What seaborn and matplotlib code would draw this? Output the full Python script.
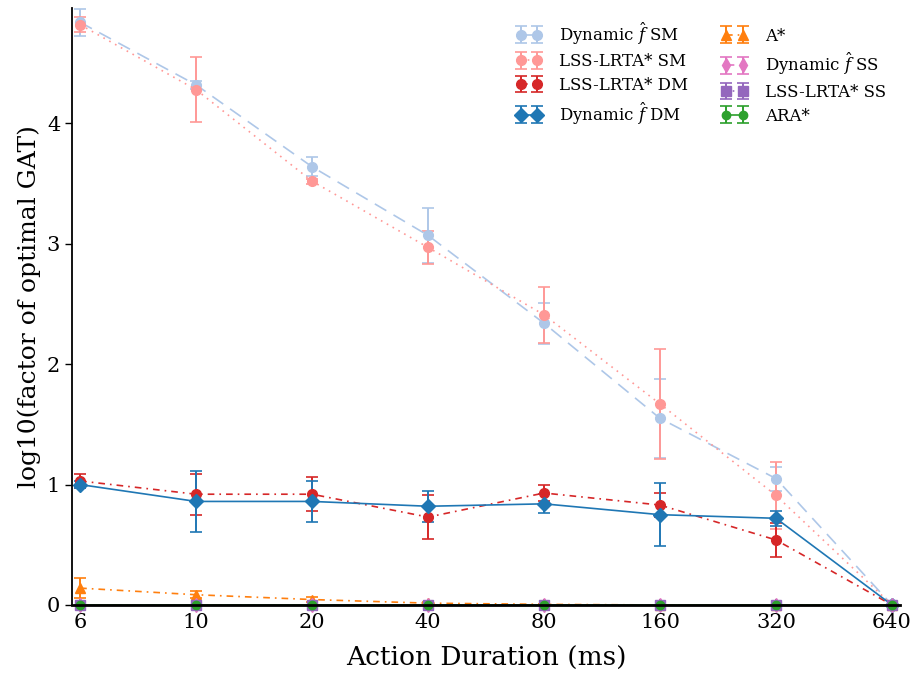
import numpy as np
import pandas as pd
import matplotlib
matplotlib.use("Agg")
import matplotlib.pyplot as plt
import seaborn as sns

durations = ["6", "10", "20", "40", "80", "160", "320", "640"]

dyn_sm = [4.84, 4.32, 3.64, 3.07, 2.34, 1.55, 1.05, 0.0]
dyn_sm_err = [0.11, 0.03, 0.08, 0.23, 0.17, 0.33, 0.10, 0.0]
lss_sm = [4.82, 4.28, 3.52, 2.97, 2.41, 1.67, 0.91, 0.0]
lss_sm_err = [0.06, 0.27, 0.02, 0.14, 0.23, 0.46, 0.28, 0.0]
lss_dm = [1.03, 0.92, 0.92, 0.73, 0.93, 0.83, 0.54, 0.0]
lss_dm_err = [0.06, 0.17, 0.14, 0.18, 0.07, 0.10, 0.14, 0.0]
dyn_dm = [1.00, 0.86, 0.86, 0.82, 0.84, 0.75, 0.72, 0.0]
dyn_dm_err = [0.03, 0.25, 0.17, 0.13, 0.08, 0.26, 0.06, 0.0]
astar = [0.14, 0.085, 0.045, 0.015, 0.005, 0.0, 0.0, 0.0]
astar_err = [0.08, 0.03, 0.02, 0.01, 0.0, 0.0, 0.0, 0.0]
dyn_ss = [0.0, 0.0, 0.0, 0.0, 0.0, 0.0, 0.0, 0.0]
dyn_ss_err = [0.0, 0.0, 0.0, 0.0, 0.0, 0.0, 0.0, 0.0]
lss_ss = [0.0, 0.0, 0.0, 0.0, 0.0, 0.0, 0.0, 0.0]
lss_ss_err = [0.0, 0.0, 0.0, 0.0, 0.0, 0.0, 0.0, 0.0]
ara = [0.0, 0.0, 0.0, 0.0, 0.0, 0.0, 0.0, 0.0]
ara_err = [0.0, 0.0, 0.0, 0.0, 0.0, 0.0, 0.0, 0.0]

series = [
    (r"Dynamic $\hat{f}$ SM", dyn_sm, dyn_sm_err, "#aec7e8", "o", (0, (8, 5)), 7),
    ("LSS-LRTA* SM", lss_sm, lss_sm_err, "#ff9896", "o", (0, (1, 3)), 7),
    ("LSS-LRTA* DM", lss_dm, lss_dm_err, "#d62728", "o", (0, (4, 3, 1, 3)), 7),
    (r"Dynamic $\hat{f}$ DM", dyn_dm, dyn_dm_err, "#1f77b4", "D", "-", 7),
    ("A*", astar, astar_err, "#ff7f0e", "^", (0, (4, 3, 1, 3)), 7),
    (r"Dynamic $\hat{f}$ SS", dyn_ss, dyn_ss_err, "#e377c2", "d", (0, (5, 5)), 7),
    ("LSS-LRTA* SS", lss_ss, lss_ss_err, "#9467bd", "s", (0, (1, 3)), 7),
    ("ARA*", ara, ara_err, "#2ca02c", "o", "-", 6),
]

sns.set_theme(style="ticks")
plt.rcParams["font.family"] = ["DejaVu Serif"]
plt.rcParams["mathtext.fontset"] = "dejavuserif"
plt.rcParams["text.color"] = "black"
plt.rcParams["axes.labelcolor"] = "black"
plt.rcParams["xtick.color"] = "black"
plt.rcParams["ytick.color"] = "black"
plt.rcParams["legend.numpoints"] = 2

fig = plt.figure(figsize=(9.15, 6.77), dpi=100)
ax = fig.add_axes([0.0787, 0.1064, 0.905, 0.882])

xpos = np.arange(len(durations))
for label, vals, errs, color, marker, ls, ms in series:
    ax.errorbar(xpos, vals, yerr=errs, color=color, marker=marker, markersize=ms,
                linestyle=ls, linewidth=1.2, capsize=4, elinewidth=1.4,
                capthick=1.2, label=label, clip_on=False, zorder=3)

ax.set_xticks(xpos)
ax.set_xticklabels(durations)
ax.set_xlim(-0.07, len(durations) - 1 + 0.07)
ax.set_ylim(0, 4.96)
ax.set_yticks([0, 1, 2, 3, 4])
sns.despine(ax=ax)
for s in ["left", "bottom"]:
    ax.spines[s].set_color("black")
ax.spines["left"].set_linewidth(1.3)
ax.spines["bottom"].set_linewidth(2.0)
ax.spines["bottom"].set_zorder(4)
ax.tick_params(axis="both", labelsize=15, colors="black", labelcolor="black", length=5, width=1)
ax.tick_params(axis="x", direction="inout", length=8, pad=2, width=1.2)
ax.set_xlabel("Action Duration (ms)", fontsize=19, color="black", labelpad=10)
ax.set_ylabel("log10(factor of optimal GAT)", fontsize=18, color="black")

leg = ax.legend(ncol=2, frameon=False, fontsize=12, loc="upper right",
                bbox_to_anchor=(1.001, 1.004), handlelength=1.6, columnspacing=2.0,
                handletextpad=1.0, labelspacing=0.4)
for t in leg.get_texts():
    t.set_color("black")

fig.savefig("out.png", dpi=100)
